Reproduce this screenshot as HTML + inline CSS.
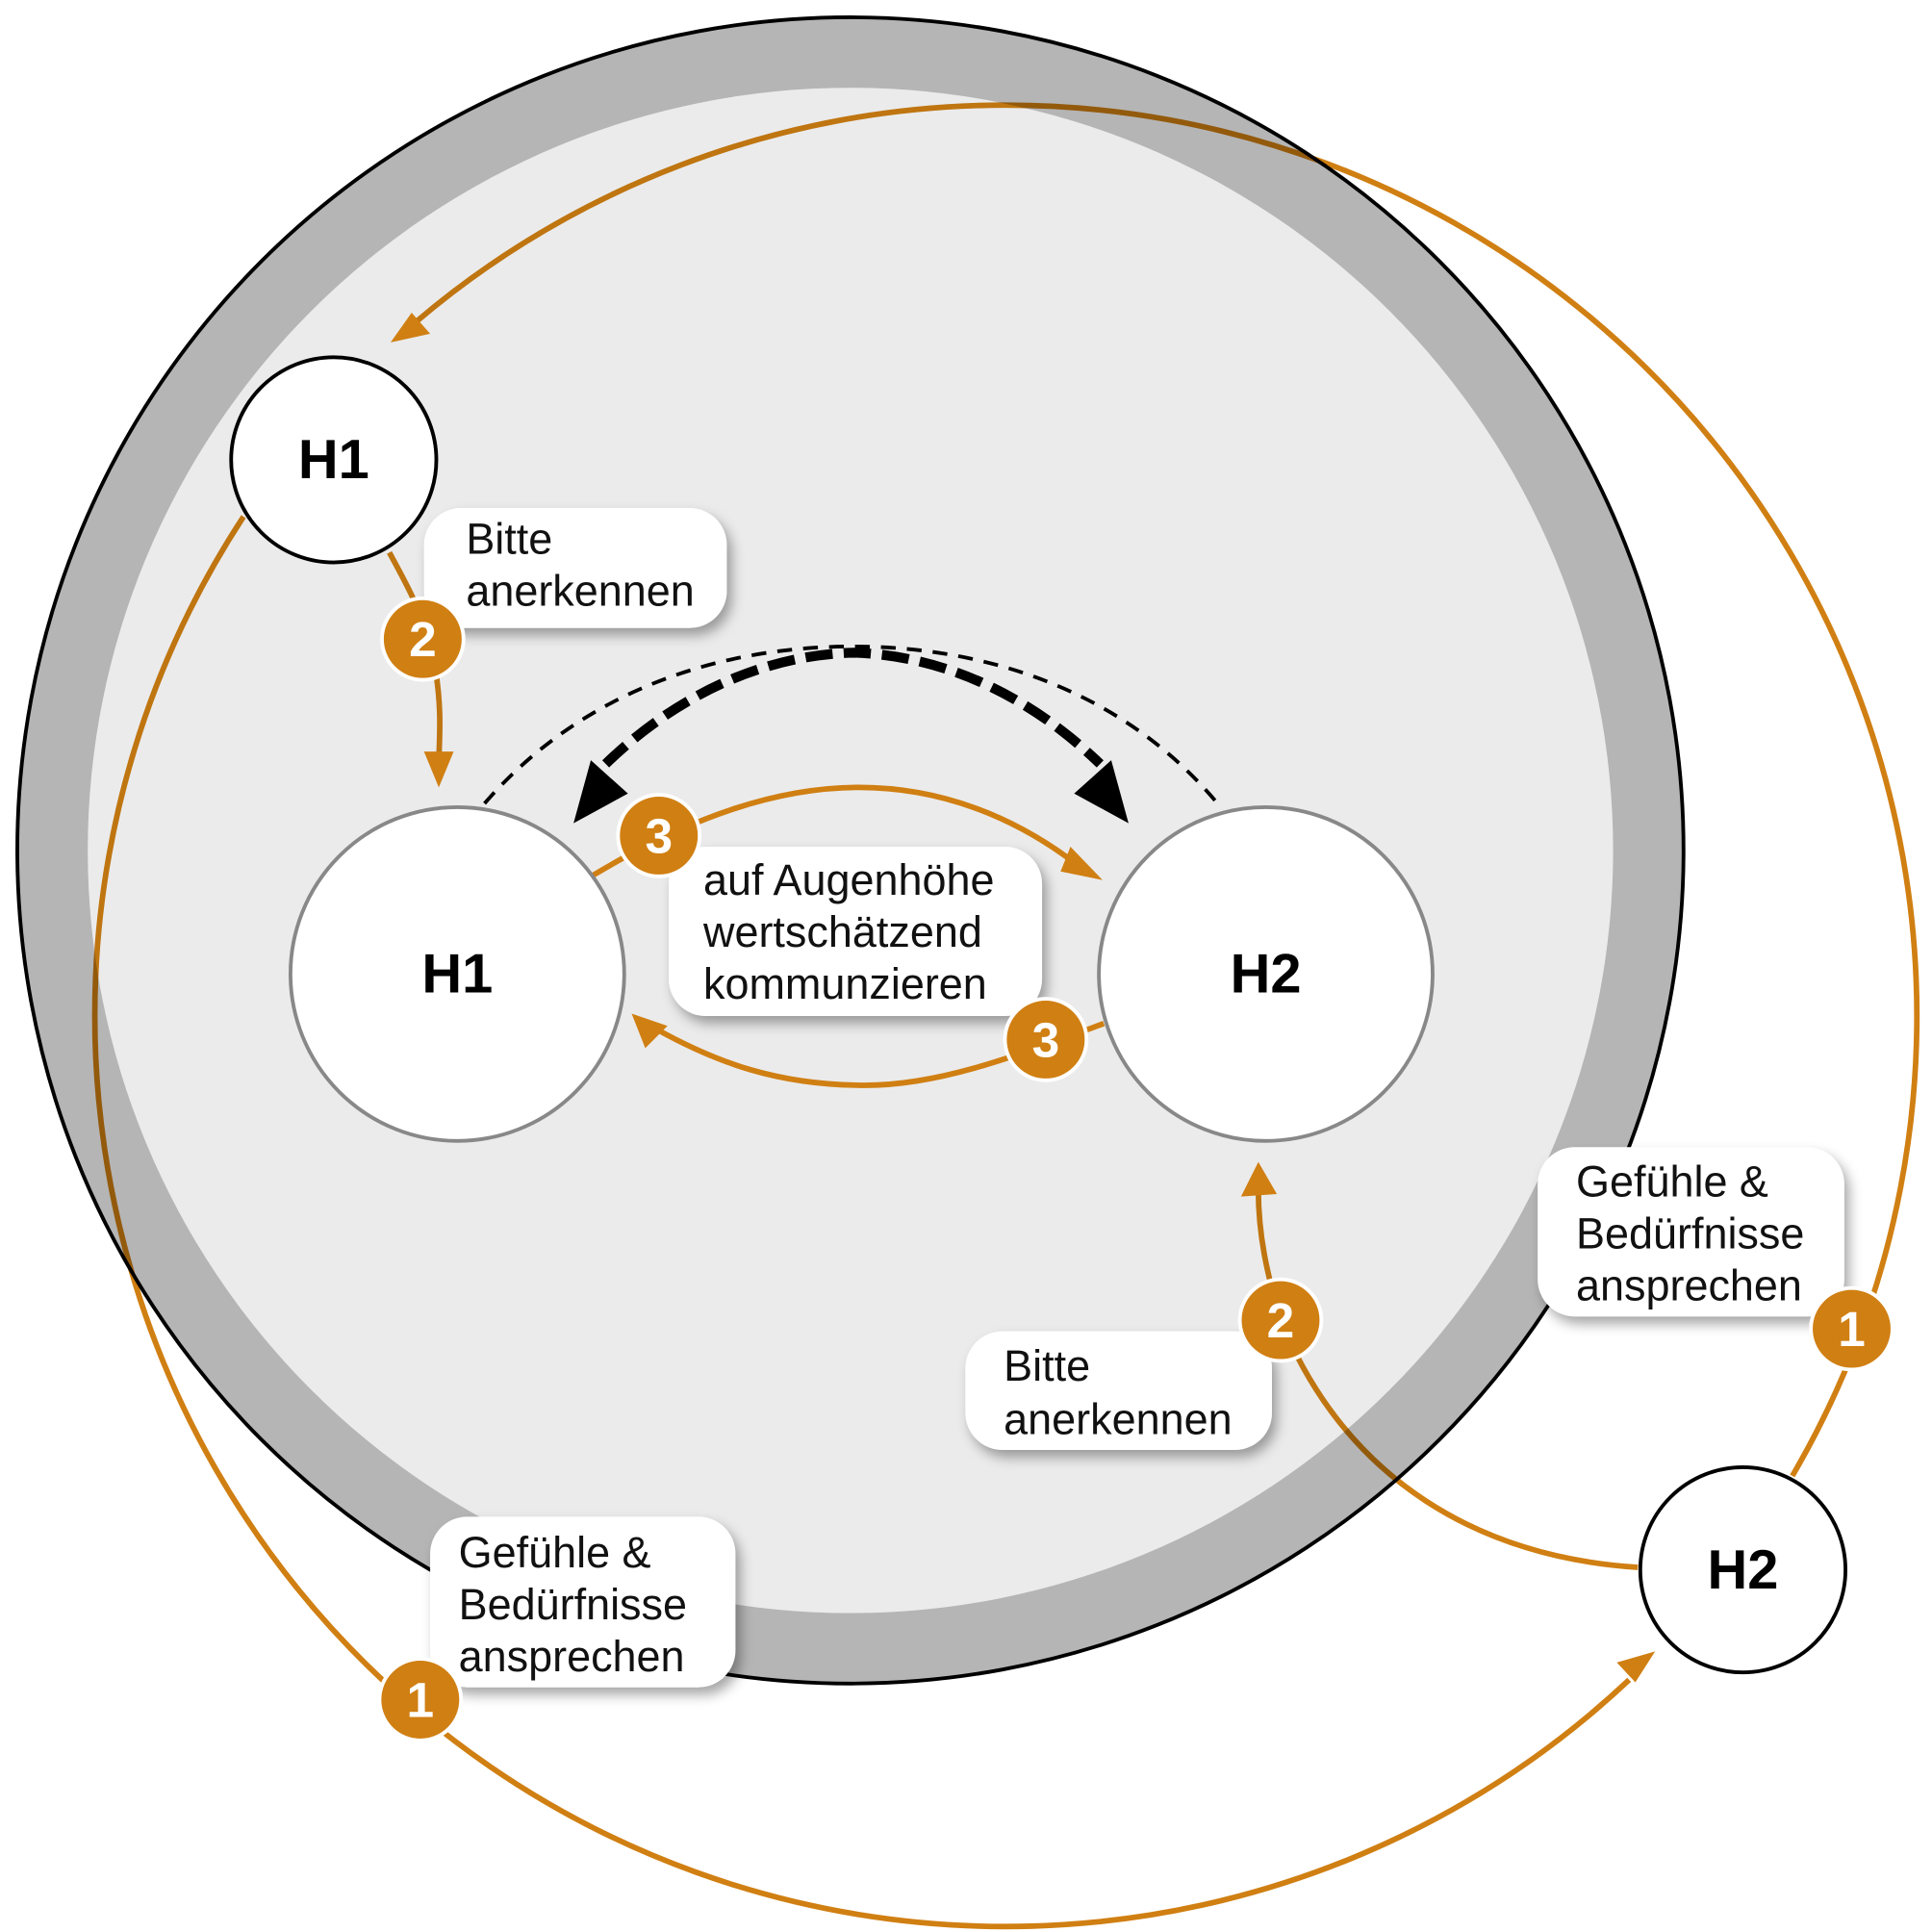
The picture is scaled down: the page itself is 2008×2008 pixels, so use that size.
<!DOCTYPE html>
<html><head><meta charset="utf-8"><style>
html,body{margin:0;padding:0;background:#fff}
svg{display:block}
text{font-family:"Liberation Sans",sans-serif}
</style></head><body>
<svg width="2008" height="2008" viewBox="0 0 1563 1563" xmlns="http://www.w3.org/2000/svg">
<defs>
<filter id="sh" x="-20%" y="-20%" width="150%" height="160%">
<feDropShadow dx="4" dy="6" stdDeviation="5" flood-color="#000" flood-opacity="0.35"/>
</filter>
</defs>
<rect width="1563" height="1563" fill="#fff"/>
<!-- big orange arcs -->
<g fill="none" stroke="#d07f12" stroke-width="4.5">
<path d="M1450,1194 A737,737 0 0 0 337,260"/>
<path d="M197,418 A737,737 0 0 0 1318,1359"/>
<path d="M1325,1268 C1200,1260 1090,1200 1036,1068 C1025,1030 1018,1000 1018,962"/>
<path d="M315,447 C330,475 345,500 352,540 C357,570 356,590 355,615"/>
</g>
<!-- circle overlays -->
<circle cx="688" cy="688" r="617" fill="rgba(0,0,0,0.08)"/>
<path fill-rule="evenodd" fill="rgba(0,0,0,0.29)" d="M13,688 A675,675 0 1 0 1363,688 A675,675 0 1 0 13,688 Z M71,688 A617,617 0 1 1 1305,688 A617,617 0 1 1 71,688 Z"/>
<circle cx="688" cy="688" r="674" fill="none" stroke="#000" stroke-width="3"/>
<!-- arrowheads orange -->
<g fill="#d07f12">
<polygon points="316,277 348,270 333,253"/>
<polygon points="1339,1336 1308,1345 1323,1361"/>
<polygon points="355,637 343,608 367,608"/>
<polygon points="1018,940 1004,968 1033,966"/>
<polygon points="892,712 866,685 858,705"/>
<polygon points="511,820 522,848 540,830"/>
</g>
<!-- arcs 3 -->
<g fill="none" stroke="#d07f12" stroke-width="4.5">
<path d="M480,708 C560,660 630,637 695,637 C760,637 820,660 872,700"/>
<path d="M893,828 C820,855 760,878 700,878 C630,878 580,860 530,832"/>
</g>
<!-- dashed -->
<path d="M392,650 C470,560 580,523 690,523 C800,523 910,560 985,650" fill="none" stroke="#000" stroke-width="3" stroke-dasharray="12,9"/>
<path d="M490,618 C550,560 620,530 690,528 C760,530 830,560 890,618" fill="none" stroke="#000" stroke-width="8" stroke-dasharray="22,9"/>
<polygon points="464,666 478,615 508,642" fill="#000"/>
<polygon points="913,666 899,615 869,642" fill="#000"/>
<!-- nodes -->
<g fill="#fff">
<circle cx="270" cy="372" r="83" stroke="#000" stroke-width="3"/>
<circle cx="1410" cy="1270" r="83" stroke="#000" stroke-width="3"/>
<circle cx="370" cy="788" r="135" stroke="#888" stroke-width="3"/>
<circle cx="1024" cy="788" r="135" stroke="#888" stroke-width="3"/>
</g>
<g font-weight="bold" text-anchor="middle" fill="#000">
<text x="270" y="387" font-size="45">H1</text>
<text x="1410" y="1285" font-size="45">H2</text>
<text x="370" y="803" font-size="45">H1</text>
<text x="1024" y="803" font-size="45">H2</text>
</g>
<!-- labels -->
<g fill="#fff" filter="url(#sh)">
<rect x="343" y="411" width="245" height="97" rx="30"/>
<rect x="541" y="685" width="302" height="137" rx="30"/>
<rect x="781" y="1077" width="248" height="96" rx="30"/>
<rect x="1244" y="928" width="248" height="137" rx="30"/>
<rect x="348" y="1227" width="247" height="138" rx="30"/>
</g>
<g font-size="35" fill="#111">
<text x="377" y="448">Bitte</text><text x="377" y="490">anerkennen</text>
<text x="569" y="724">auf Augenhöhe</text><text x="569" y="766">wertschätzend</text><text x="569" y="808">kommunzieren</text>
<text x="812" y="1117">Bitte</text><text x="812" y="1160">anerkennen</text>
<text x="1275" y="968">Gefühle &amp;</text><text x="1275" y="1010">Bedürfnisse</text><text x="1275" y="1052">ansprechen</text>
<text x="371" y="1268">Gefühle &amp;</text><text x="371" y="1310">Bedürfnisse</text><text x="371" y="1352">ansprechen</text>
</g>
<!-- badges -->
<g fill="#d07f12" stroke="#fff" stroke-width="3">
<circle cx="340" cy="1375" r="33"/>
<circle cx="1498" cy="1075" r="33"/>
<circle cx="342" cy="517" r="33"/>
<circle cx="1036" cy="1068" r="33"/>
<circle cx="533" cy="676" r="33"/>
<circle cx="846" cy="841" r="33"/>
</g>
<g fill="#fff" font-size="40" font-weight="bold" text-anchor="middle">
<text x="340" y="1389">1</text>
<text x="1498" y="1089">1</text>
<text x="342" y="531">2</text>
<text x="1036" y="1082">2</text>
<text x="533" y="690">3</text>
<text x="846" y="855">3</text>
</g>
</svg>
</body></html>
